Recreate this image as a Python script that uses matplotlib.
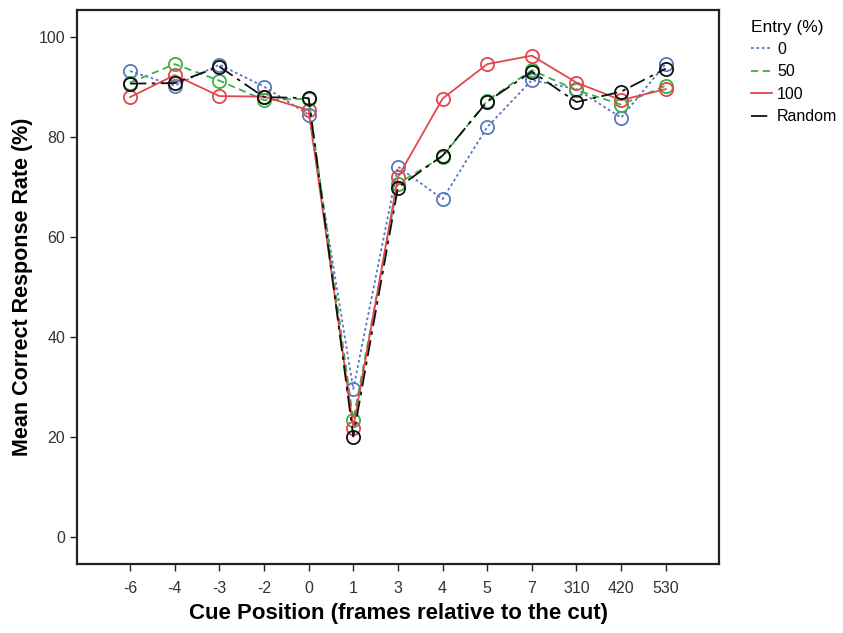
import matplotlib.pyplot as plt

plt.rcParams['font.family'] = ['Liberation Sans', 'DejaVu Sans']

# data
positions = ['-6', '-4', '-3', '-2', '0', '1', '3', '4', '5', '7', '310', '420', '530']
entry_0 = [93.1, 90.2, 94.4, 90.0, 84.4, 29.5, 74.0, 67.5, 81.9, 91.3, 89.5, 83.8, 94.6]
entry_50 = [90.8, 94.5, 91.2, 87.3, 87.6, 23.3, 70.6, 76.0, 87.2, 93.3, 89.3, 86.4, 90.2]
entry_100 = [87.9, 92.3, 88.1, 88.0, 85.3, 21.8, 71.9, 87.6, 94.5, 96.2, 90.8, 87.3, 89.5]
entry_random = [90.6, 90.7, 94.0, 87.9, 87.7, 20.0, 69.8, 76.2, 87.0, 93.0, 86.9, 89.0, 93.6]

series = [
    ('0', entry_0, '#5878c0', (0, (1.5, 1.5))),
    ('50', entry_50, '#3cb04a', (0, (4, 2.5))),
    ('100', entry_100, '#e4474b', '-'),
    ('Random', entry_random, '#111111', (0, (9, 3, 2, 3))),
]

fig = plt.figure(figsize=(8.43, 6.33), dpi=100)
ax = fig.add_axes([0.0913, 0.109, 0.762, 0.875])

x = list(range(len(positions)))
for name, vals, color, ls in series:
    ax.plot(x, vals, color=color, linestyle=ls, linewidth=1.3,
            marker='o', markersize=9.5, markerfacecolor='none',
            markeredgecolor=color, markeredgewidth=1.3, label=name)

ax.set_xlim(-1.19, 13.2)
ax.set_ylim(-5.5, 105.3)
ax.set_xticks(x)
ax.set_xticklabels(positions)
ax.set_yticks([0, 20, 40, 60, 80, 100])
ax.tick_params(axis='both', labelsize=11.5, colors='#222222', labelcolor='#333333',
               length=5, width=1, direction='out')
ax.tick_params(axis='x', pad=7)
for s in ax.spines.values():
    s.set_linewidth(1.6)
    s.set_color('#222222')

ax.set_xlabel('Cue Position (frames relative to the cut)', fontsize=16, fontweight='bold', labelpad=5)
ax.set_ylabel('Mean Correct Response Rate (%)', fontsize=15.5, fontweight='bold', labelpad=4)

leg = ax.legend(title='Entry (%)', loc='upper left', bbox_to_anchor=(1.035, 1.0),
                frameon=False, fontsize=11.5, title_fontsize=12.5,
                handlelength=1.3, handletextpad=0.3, labelspacing=0.46,
                borderaxespad=0.2)
for h in leg.legend_handles:
    h.set_marker('')
leg._legend_box.align = 'left'

fig.savefig('out.png', dpi=100)
